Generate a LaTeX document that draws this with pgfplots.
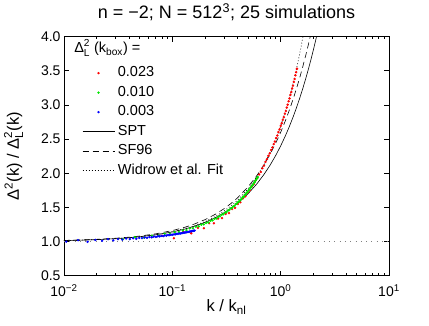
\documentclass[border=0pt]{standalone}
\usepackage{amsmath}
\usepackage{fontspec}
\setmainfont{Liberation Sans}
\usepackage{pgfplots}
\pgfplotsset{compat=1.18}
\usepackage{pgfplotstable}

\definecolor{dgreen}{RGB}{0,230,0}
\newcommand{\DL}{\ensuremath{\text{Δ}^{\text{2}}_{\text{L}}}}

% Delta^2_L(k_box) = 0.023
\pgfplotstableread{
k v
0.0805 1.085
0.1035 1.048
0.1265 1.142
0.1495 1.121
0.1725 1.200
0.1955 1.195
0.2185 1.268
0.2415 1.267
0.2645 1.336
0.2875 1.342
0.3105 1.405
0.3335 1.417
0.3565 1.476
0.3795 1.493
0.4025 1.549
0.4255 1.575
0.4485 1.633
0.4715 1.662
0.4945 1.718
0.5175 1.750
0.5405 1.805
0.5635 1.839
0.5865 1.893
0.6095 1.929
0.6325 1.982
0.6555 2.019
0.6785 2.073
0.7015 2.111
0.7245 2.165
0.7475 2.205
0.7705 2.254
0.7935 2.290
0.8165 2.339
0.8395 2.377
0.8625 2.426
0.8855 2.464
0.9085 2.514
0.9315 2.553
0.9545 2.603
0.9775 2.643
1.0005 2.693
1.0235 2.732
1.0465 2.781
1.0695 2.821
1.0925 2.871
1.1155 2.911
1.1385 2.962
1.1615 3.003
1.1845 3.054
1.2075 3.095
1.2305 3.147
1.2535 3.189
1.2765 3.241
1.2995 3.284
1.3225 3.337
1.3455 3.380
1.3685 3.434
1.3915 3.479
1.4145 3.530
}\redtab

% Delta^2_L(k_box) = 0.010
\pgfplotstableread{
k v
0.035 1.033
0.045 1.063
0.055 1.056
0.065 1.086
0.075 1.085
0.085 1.113
0.095 1.113
0.105 1.137
0.115 1.138
0.125 1.163
0.135 1.167
0.145 1.192
0.155 1.195
0.165 1.217
0.175 1.222
0.185 1.246
0.195 1.251
0.205 1.273
0.215 1.278
0.225 1.302
0.235 1.309
0.245 1.331
0.255 1.338
0.265 1.360
0.275 1.369
0.285 1.391
0.295 1.399
0.305 1.420
0.315 1.429
0.325 1.451
0.335 1.461
0.345 1.484
0.355 1.492
0.365 1.514
0.375 1.523
0.385 1.547
0.395 1.557
0.405 1.580
0.415 1.590
0.425 1.612
0.435 1.622
0.445 1.646
0.455 1.657
0.465 1.681
0.475 1.691
0.485 1.714
0.495 1.725
0.505 1.749
0.515 1.761
0.525 1.786
0.535 1.796
0.545 1.820
0.555 1.831
0.565 1.857
0.575 1.869
0.585 1.894
0.595 1.906
0.605 1.930
0.615 1.944
}\greentab

% Delta^2_L(k_box) = 0.003
\pgfplotstableread{
k v
0.0105 0.999
0.0135 1.020
0.0165 0.996
0.0195 1.023
0.0225 1.012
0.0255 1.034
0.0285 1.016
0.0315 1.035
0.0345 1.028
0.0375 1.044
0.0405 1.036
0.0435 1.048
0.0465 1.040
0.0495 1.054
0.0525 1.050
0.0555 1.060
0.0585 1.054
0.0615 1.065
0.0645 1.062
0.0675 1.072
0.0705 1.068
0.0735 1.076
0.0765 1.074
0.0795 1.083
0.0825 1.080
0.0855 1.088
0.0885 1.087
0.0915 1.094
0.0945 1.094
0.0975 1.100
0.1005 1.099
0.1035 1.105
0.1065 1.106
0.1095 1.112
0.1125 1.112
0.1155 1.117
0.1185 1.117
0.1215 1.123
0.1245 1.124
0.1275 1.129
0.1305 1.130
0.1335 1.135
0.1365 1.136
0.1395 1.141
0.1425 1.142
0.1455 1.147
0.1485 1.148
0.1515 1.153
0.1545 1.154
0.1575 1.158
0.1605 1.160
}\bluetab

\begin{document}
\begin{tikzpicture}
\begin{axis}[
  name=ax,
  scale only axis,
  width=325bp, height=239bp,
  xmode=log,
  xmin=0.01, xmax=10,
  ymin=0.5, ymax=4,
  xtick={0.01,0.1,1,10},
  xticklabels={10\textsuperscript{−2},10\textsuperscript{−1},10\textsuperscript{0},10\textsuperscript{1}},
  ytick={0.5,1.0,1.5,2.0,2.5,3.0,3.5,4.0},
  yticklabels={0.5,1.0,1.5,2.0,2.5,3.0,3.5,4.0},
  minor y tick num=0,
  tick align=inside,
  tick pos=both,
  major tick length=5bp,
  minor tick length=2.5bp,
  every tick/.style={black, line width=0.6bp},
  axis line style={line width=0.8bp},
  tick label style={font=\fontsize{14bp}{16bp}\selectfont},
  xticklabel style={anchor=base, yshift=-21bp},
  title={n = −2; N = 512\textsuperscript{3}; 25 simulations},
  title style={at={(axis description cs:0.5,1.0515)}, anchor=base,
    font=\fontsize{18bp}{21bp}\selectfont},
  xlabel={k / k\textsubscript{nl}},
  xlabel style={at={(axis description cs:0.5,-0.151)}, anchor=base,
    font=\fontsize{16.5bp}{19bp}\selectfont},
  ylabel={Δ\textsuperscript{2}(k) / \DL(k)},
  ylabel style={at={(axis description cs:-0.1385,0.5)}, anchor=base,
    font=\fontsize{16.5bp}{19bp}\selectfont},
  legend cell align=left,
  legend style={draw=none, fill=none,
    at={(axis description cs:0.0554,0.8766)}, anchor=north west,
    inner sep=0bp, row sep=6bp, column sep=3bp,
    font=\fontsize{14.5bp}{17bp}\selectfont,
    nodes={inner sep=0bp, text height=10.5bp, text depth=3bp}},
  legend image code/.code={\draw[mark repeat=2,mark phase=2,#1]
    plot coordinates {(0bp,0bp) (16bp,0bp) (32bp,0bp)};},
]
\addplot[forget plot, gray, dash pattern=on 0.8bp off 4.5bp, line width=0.6bp]
  coordinates {(0.01,1) (10,1)};

\addplot[only marks, mark=*, mark size=1bp, red] table[x=k,y=v] {\redtab};
\addlegendentry{0.023}
\addplot[only marks, mark=*, mark size=1bp, dgreen] table[x=k,y=v] {\greentab};
\addlegendentry{0.010}
\addplot[only marks, mark=*, mark size=1bp, blue] table[x=k,y=v] {\bluetab};
\addlegendentry{0.003}

\addplot[black, line width=0.6bp] coordinates {
  (0.01,1.014) (0.015,1.021) (0.02,1.028) (0.03,1.042) (0.04,1.056)
  (0.05,1.070) (0.07,1.098) (0.1,1.140) (0.13,1.182) (0.16,1.224)
  (0.2,1.280) (0.25,1.350) (0.3,1.420) (0.35,1.490) (0.4,1.560)
  (0.5,1.700) (0.6,1.840) (0.7,1.980) (0.8,2.120) (0.9,2.260)
  (1.0,2.400) (1.1,2.540) (1.2,2.680) (1.3,2.820) (1.4,2.960)
  (1.5,3.100) (1.6,3.240) (1.7,3.380) (1.8,3.520) (1.9,3.660)
  (2.0,3.800) (2.1,3.940) (2.2,4.080)
};
\addlegendentry{SPT}

\addplot[black, line width=0.6bp, dash pattern=on 6bp off 4bp] coordinates {
  (0.01,1.016) (0.015,1.024) (0.02,1.032) (0.03,1.048) (0.04,1.064)
  (0.05,1.080) (0.07,1.112) (0.1,1.160) (0.13,1.208) (0.16,1.256)
  (0.2,1.320) (0.25,1.400) (0.3,1.480) (0.35,1.560) (0.4,1.640)
  (0.5,1.800) (0.6,1.960) (0.7,2.120) (0.8,2.280) (0.9,2.440)
  (1.0,2.600) (1.1,2.760) (1.2,2.920) (1.3,3.080) (1.4,3.240)
  (1.5,3.400) (1.6,3.560) (1.7,3.720) (1.8,3.880) (1.9,4.040)
};
\addlegendentry{SF96}

\addplot[black, line width=0.7bp, dash pattern=on 0.8bp off 2.2bp] coordinates {
  (0.01,1.014) (0.015,1.021) (0.02,1.028) (0.03,1.042) (0.04,1.057)
  (0.05,1.071) (0.07,1.099) (0.1,1.143) (0.13,1.187) (0.16,1.231)
  (0.2,1.292) (0.25,1.368) (0.3,1.446) (0.35,1.526) (0.4,1.606)
  (0.5,1.773) (0.6,1.944) (0.7,2.122) (0.8,2.306) (0.9,2.495)
  (1.0,2.690) (1.1,2.891) (1.2,3.098) (1.3,3.310) (1.4,3.528)
  (1.5,3.753) (1.6,3.982) (1.7,4.218)
};
\addlegendentry{Widrow et al. Fit}

\node[anchor=base west, font=\fontsize{14.5bp}{17bp}\selectfont, inner sep=0bp]
  at (axis description cs:0.031,0.933) {\DL\ (k\textsubscript{box}) =};
\end{axis}
\path ([shift={(-64bp,-50bp)}]ax.south west) rectangle ([shift={(40bp,34bp)}]ax.north east);
\end{tikzpicture}
\end{document}
